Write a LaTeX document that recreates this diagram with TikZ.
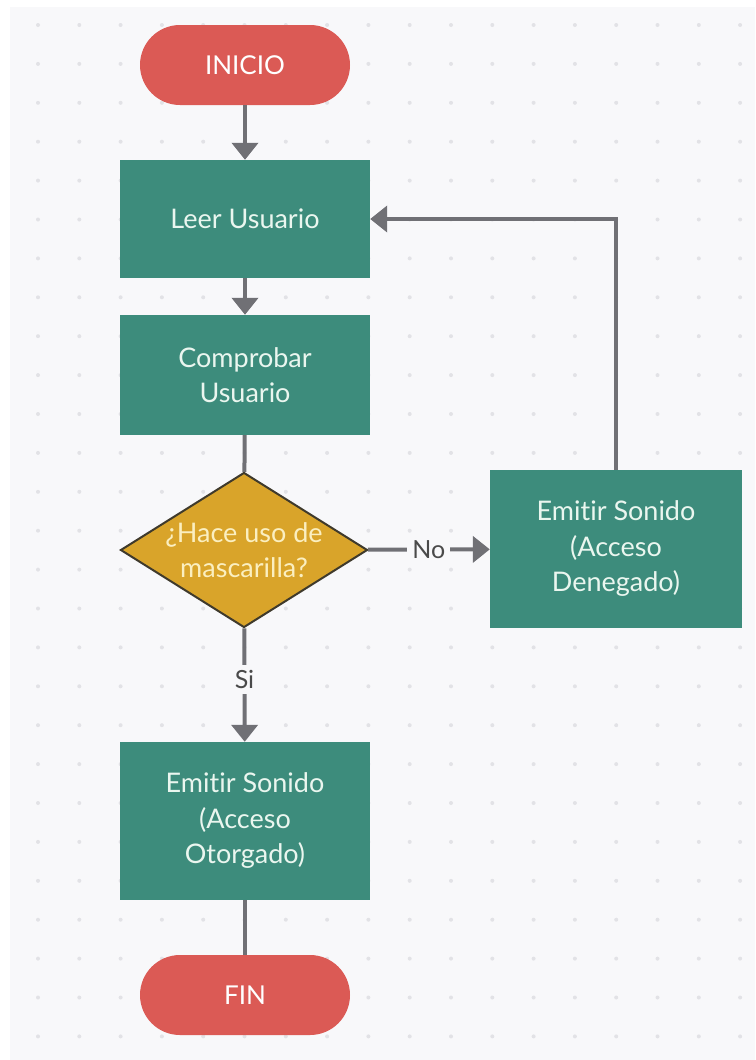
\documentclass[tikz,border=0pt]{standalone}
\usepackage{fontspec}
\setmainfont{Lato}[Ligatures=NoCommon]
\usetikzlibrary{shapes.geometric,arrows.meta}
\definecolor{bgc}{HTML}{F8F8FA}
\definecolor{dotc}{HTML}{E2E2E6}
\definecolor{redc}{HTML}{DB5A55}
\definecolor{tealc}{HTML}{3D8C7C}
\definecolor{goldc}{HTML}{D9A42A}
\definecolor{goldline}{HTML}{3F3A2C}
\definecolor{linec}{HTML}{707075}
\definecolor{lighttext}{HTML}{EAF6EF}
\definecolor{goldtext}{HTML}{FBEFC0}
\definecolor{lblc}{HTML}{4A4A4A}
\tikzset{
  term/.style={rectangle, rounded corners=40pt, fill=redc, minimum width=210pt, minimum height=80pt,
    text=white, font=\fontsize{26}{30}\selectfont},
  proc/.style={rectangle, fill=tealc, minimum width=250pt, text=lighttext, align=center,
    font=\fontsize{27}{35.5}\selectfont},
  decision/.style={diamond, aspect=1.6, inner sep=0pt, fill=goldc, draw=goldline, line width=2pt,
    minimum width=247pt, minimum height=155pt, text=goldtext, align=center,
    font=\fontsize{27}{35.5}\selectfont},
  conn/.style={draw=linec, line width=4pt},
  arr/.style={conn, -{Triangle[width=26pt,length=17pt]}},
  lbl/.style={fill=bgc, text=lblc, inner sep=5pt, font=\fontsize{25}{28}\selectfont}
}
\begin{document}
\begin{tikzpicture}[x=1pt,y=-1pt]
\useasboundingbox (0,0) rectangle (755,1060);
\fill[white] (0,0) rectangle (755,1060);
\fill[bgc] (10,7) rectangle (755,1060);
\foreach \i in {0,...,17} {
  \foreach \j in {0,...,26} {
    \fill[dotc] (38+41.3*\i, 25+38.9*\j) circle (2pt);
  }
}
\node[term] (inicio) at (245,65) {INICIO};
\node[proc, minimum height=118pt] (leer) at (245,219) {Leer Usuario};
\node[proc, minimum height=120pt] (comp) at (245,375) {Comprobar\\Usuario};
\node[decision] (dec) at (244,550) {¿Hace uso de\\mascarilla?};
\node[proc, minimum width=252pt, minimum height=158pt] (den) at (616,549) {Emitir Sonido\\(Acceso\\Denegado)};
\node[proc, minimum height=158pt] (oto) at (245,821) {Emitir Sonido\\(Acceso\\Otorgado)};
\node[term] (fin) at (245,995) {FIN};

\draw[arr] (inicio) -- (leer);
\draw[arr] (leer) -- (comp);
\draw[conn] (comp) -- (dec);
\draw[arr] (dec) -- node[lbl] {No} (den);
\draw[arr] (den.north) |- (leer.east);
\draw[arr] (dec) -- node[lbl, pos=0.45] {Si} (oto);
\draw[conn] (oto) -- (fin);
\end{tikzpicture}
\end{document}
